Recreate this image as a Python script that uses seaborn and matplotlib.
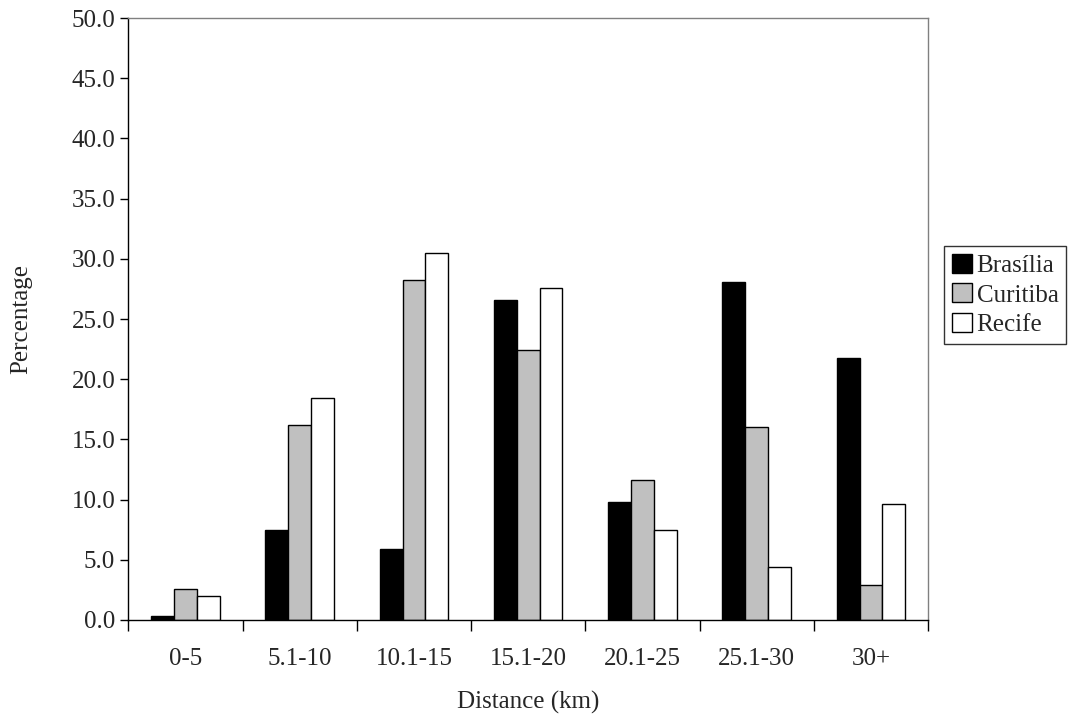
import matplotlib
matplotlib.use("Agg")
import matplotlib.pyplot as plt
import seaborn as sns
import pandas as pd
import numpy as np

categories = ["0-5", "5.1-10", "10.1-15", "15.1-20", "20.1-25", "25.1-30", "30+"]
brasilia = [0.3, 7.5, 5.9, 26.6, 9.8, 28.1, 21.8]
curitiba = [2.6, 16.2, 28.2, 22.4, 11.6, 16.0, 2.9]
recife = [2.0, 18.4, 30.5, 27.6, 7.5, 4.4, 9.6]
series = ["Brasília", "Curitiba", "Recife"]
colors = ["#000000", "#c0c0c0", "#ffffff"]

df = pd.DataFrame({
    "cat": categories * 3,
    "val": brasilia + curitiba + recife,
    "city": sum([[s] * len(categories) for s in series], []),
})

sns.set_style("white")
plt.rcParams['font.family'] = ['Liberation Serif', 'DejaVu Serif']
fig = plt.figure(figsize=(10.88, 7.25), dpi=100)
ax = fig.add_axes([0.118, 0.145, 0.735, 0.83])
sns.barplot(data=df, x="cat", y="val", hue="city", palette=colors, width=0.6,
            edgecolor="black", linewidth=1, ax=ax, saturation=1)
ax.set_ylim(0, 50)
ax.set_xlim(-0.5, 6.5)
ax.set_yticks(np.arange(0, 50.1, 5))
ax.set_yticklabels([f"{v:.1f}" for v in np.arange(0, 50.1, 5)], fontsize=18)
ax.set_xticks(range(7))
ax.set_xticklabels(categories, fontsize=18)
ax.tick_params(axis='x', which='major', length=0, pad=20, bottom=False)
ax.set_xticks(np.arange(-0.5, 7, 1), minor=True)
ax.tick_params(axis='x', which='minor', length=8, direction='out', width=1,
               color='black', bottom=True)
ax.tick_params(axis='y', length=6, direction='out', width=1, color='black', left=True)
ax.set_xlabel("Distance (km)", fontsize=18, labelpad=15)
ax.set_ylabel("Percentage", fontsize=18, labelpad=28)
for s in ["left", "bottom"]:
    ax.spines[s].set_color("black")
for s in ["top", "right"]:
    ax.spines[s].set_color("#808080")
for s in ax.spines.values():
    s.set_linewidth(1)
leg = ax.legend(loc="center left", bbox_to_anchor=(1.02, 0.54), fontsize=18,
                frameon=True, fancybox=False, edgecolor="black", borderpad=0.3,
                handlelength=0.8, handleheight=0.8, handletextpad=0.2,
                labelspacing=0.25, borderaxespad=0)
leg.get_frame().set_linewidth(1)
fig.savefig("out.png", dpi=100)
